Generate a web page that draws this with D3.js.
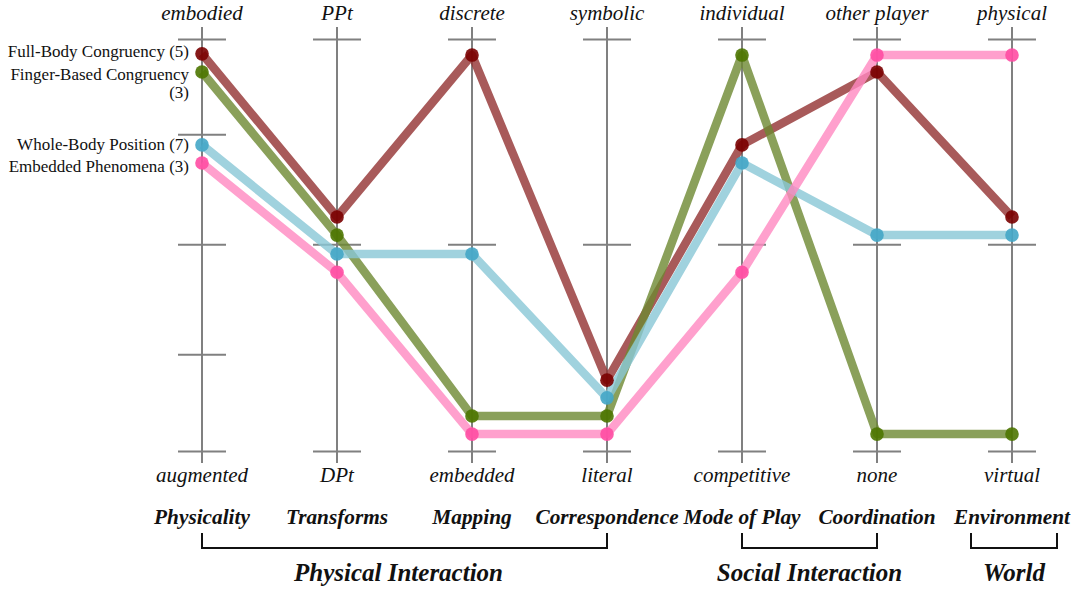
<!DOCTYPE html>
<html><head><meta charset="utf-8">
<script src="https://cdn.jsdelivr.net/npm/d3@7"></script>
<style>body{margin:0;background:#fff}svg{display:block}</style>
</head><body><svg id="c" width="1074" height="590"></svg>
<script>
const dimensions = ["Physicality","Transforms","Mapping","Correspondence","Mode of Play","Coordination","Environment"];
const topLabels = ["embodied","PPt","discrete","symbolic","individual","other player","physical"];
const bottomLabels = ["augmented","DPt","embedded","literal","competitive","none","virtual"];
const seriesNames = ["Full-Body Congruency (5)","Finger-Based Congruency (3)","Whole-Body Position (7)","Embedded Phenomena (3)"];
const fullBody = [0.964,0.568,0.961,0.172,0.743,0.920,0.568];
const fingerBased = [0.920,0.524,0.085,0.085,0.961,0.041,0.041];
const wholeBody = [0.743,0.478,0.478,0.129,0.699,0.524,0.524];
const embedded = [0.699,0.434,0.041,0.041,0.434,0.961,0.961];
const seriesValues = [fullBody, fingerBased, wholeBody, embedded];
const firstAxisTicks = [0,0.235,0.502,0.769,1];
const otherAxisTicks = [0,0.502,1];
const groups = [
  {name:"Physical Interaction", from:"Physicality", to:"Correspondence"},
  {name:"Social Interaction", from:"Mode of Play", to:"Coordination"},
  {name:"World", from:"Environment", to:"Environment"}
];
const lineColors = ["#923131","#6d8831","#88c7d6","#ff88c1"];
const dotColors = ["#7a0000","#4d7500","#44a6c6","#ff4da3"];
const FONT = "'Liberation Serif', 'DejaVu Serif', serif";

const svg = d3.select("#c");
const x = d3.scalePoint().domain(dimensions).range([202,1012]);
const y = d3.scaleLinear().domain([0,1]).range([451,39]);

// axes
dimensions.forEach((d,i)=>{
  const g = svg.append("g").attr("transform",`translate(${x(d)},0)`);
  const ticks = i===0 ? firstAxisTicks : otherAxisTicks;
  const ax = d3.axisLeft(y).tickValues(ticks).tickSize(0).tickFormat("");
  g.call(ax);
  g.select(".domain").remove();
  g.append("line").attr("x1",0).attr("x2",0).attr("y1",27).attr("y2",463)
    .attr("stroke","#808080").attr("stroke-width",2);
  g.selectAll(".tick").append("line").attr("x1",-24).attr("x2",24)
    .attr("stroke","#808080").attr("stroke-width",2);
  g.append("text").attr("y",20).attr("text-anchor","middle").attr("font-style","italic")
    .attr("font-family",FONT).attr("font-size",21).attr("fill","#111").text(topLabels[i]);
  g.append("text").attr("y",482).attr("text-anchor","middle").attr("font-style","italic")
    .attr("font-family",FONT).attr("font-size",21).attr("fill","#111").text(bottomLabels[i]);
  g.append("text").attr("y",524).attr("text-anchor","middle").attr("font-style","italic")
    .attr("font-family",FONT).attr("font-weight","bold").attr("font-size",21.3).attr("fill","#111").text(d);
});

// groups
groups.forEach(gr=>{
  let x0 = x(gr.from), x1 = x(gr.to);
  if (x0===x1){ x0 -= 41; x1 += 45; }
  svg.append("path").attr("d",`M${x0},533V548H${x1}V533`).attr("fill","none")
    .attr("stroke","#111").attr("stroke-width",2);
  svg.append("text").attr("x",(x0+x1)/2-(gr.name==="Physical Interaction"?6:0)).attr("y",581)
    .attr("text-anchor","middle").attr("font-style","italic").attr("font-weight","bold")
    .attr("font-family",FONT).attr("font-size",25).attr("fill","#111").text(gr.name);
});

// lines
const line = d3.line().x((v,i)=>x(dimensions[i])).y(v=>y(v));
seriesValues.forEach((vals,s)=>{
  svg.append("path").datum(vals).attr("d",line).attr("fill","none")
    .attr("stroke",lineColors[s]).attr("stroke-opacity",0.8).attr("stroke-width",8.5)
    .attr("stroke-linejoin","round");
});
seriesValues.forEach((vals,s)=>{
  svg.selectAll(null).data(vals).enter().append("circle")
    .attr("cx",(v,i)=>x(dimensions[i])).attr("cy",v=>y(v)).attr("r",6.8)
    .attr("fill",dotColors[s]).attr("fill-opacity",0.9);
});

// series labels
const labelShift = [3,8,5,9];
seriesNames.forEach((n,s)=>{
  const t = svg.append("text").attr("x",189).attr("y",y(seriesValues[s][0])+labelShift[s])
    .attr("text-anchor","end").attr("font-family",FONT).attr("font-size",17).attr("fill","#111");
  if (n==="Finger-Based Congruency (3)"){
    t.append("tspan").attr("x",189).text("Finger-Based Congruency");
    t.append("tspan").attr("x",189).attr("dy",18).text("(3)");
  } else t.text(n);
});
</script></body></html>
